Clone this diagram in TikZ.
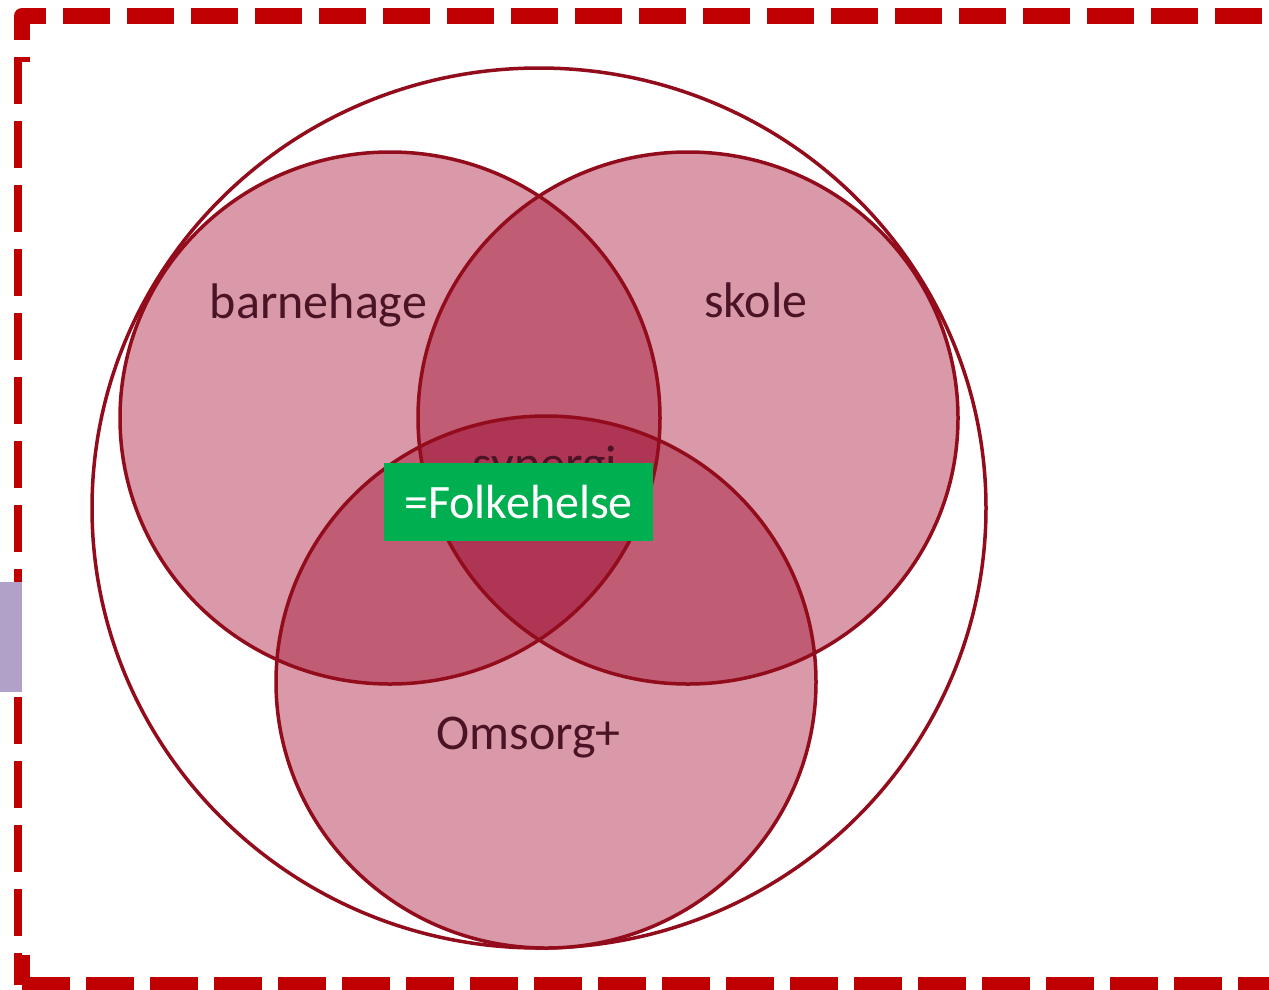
\documentclass[tikz,border=0pt]{standalone}
\usepackage{fontspec}
\setmainfont{Carlito}
\usetikzlibrary{calc}

\definecolor{borderred}{HTML}{C00000}
\definecolor{sidepurple}{HTML}{B1A0C7}
\definecolor{ringline}{HTML}{920C1C}
\definecolor{lightfill}{HTML}{D999A8}
\definecolor{midfill}{HTML}{C15C75}
\definecolor{darkfill}{HTML}{AE3553}
\definecolor{venncol}{HTML}{4A1426}
\definecolor{folkegreen}{HTML}{00B050}

\begin{document}
\begin{tikzpicture}[x=1pt,y=-1pt,
	ring/.style={x radius=270pt,y radius=266pt},
	ringstroke/.style={draw=ringline,line width=3.5pt},
	venntext/.style={font=\fontsize{50}{60}\selectfont,text=venncol,inner sep=0pt,anchor=base}]

		\useasboundingbox (0,0) rectangle (1269,989);

		\coordinate (B) at (390,418) ;
		\coordinate (S) at (688,418) ;
		\coordinate (O) at (546,682) ;
		\coordinate (M) at (539,508) ;

		% ramme
		\draw [borderred, line width=16pt, line join=round, dash pattern=on 47pt off 17pt, dash phase=14.5pt] (22,985)--(22,16)--(1300,16);
		\draw [borderred, line width=16pt, dash pattern=on 48pt off 16pt] (22,985)--(1300,985);
		\fill [white] (22,62) rectangle (1269,955);
		\fill [sidepurple] (0,582) rectangle (22,692);

		\draw [ringstroke] (M) ellipse [x radius=447pt, y radius=440pt];

		\fill [lightfill] (B) ellipse [ring];
		\fill [lightfill] (S) ellipse [ring];
		\fill [lightfill] (O) ellipse [ring];

		\begin{scope}
			\clip (B) ellipse [ring];
			\fill [midfill] (S) ellipse [ring];
			\fill [midfill] (O) ellipse [ring];
		\end{scope}
		\begin{scope}
			\clip (S) ellipse [ring];
			\fill [midfill] (O) ellipse [ring];
		\end{scope}
		\begin{scope}
			\clip (B) ellipse [ring];
			\clip (S) ellipse [ring];
			\fill [darkfill] (O) ellipse [ring];
		\end{scope}

		\draw [ringstroke] (B) ellipse [ring];
		\draw [ringstroke] (S) ellipse [ring];
		\draw [ringstroke] (O) ellipse [ring];

		\node [venntext] (barnehage) at (318.5,318) {barnehage};
		\node [venntext] (skole) at (756,317) {skole};
		\node [venntext] (omsorg) at (528.5,749) {Omsorg+};
		\node [venntext] (synergi) at (545,480) {synergi}; % ligger under boksen
		%\node [venntext] (folk) at (518,517) {Folkehelse};

		\node [fill=folkegreen, text=white, inner sep=0pt, minimum width=269pt, minimum height=78pt, font=\fontsize{48}{58}\selectfont] (folkehelse) at (518.5,502) {=Folkehelse};

\end{tikzpicture}
\end{document}
